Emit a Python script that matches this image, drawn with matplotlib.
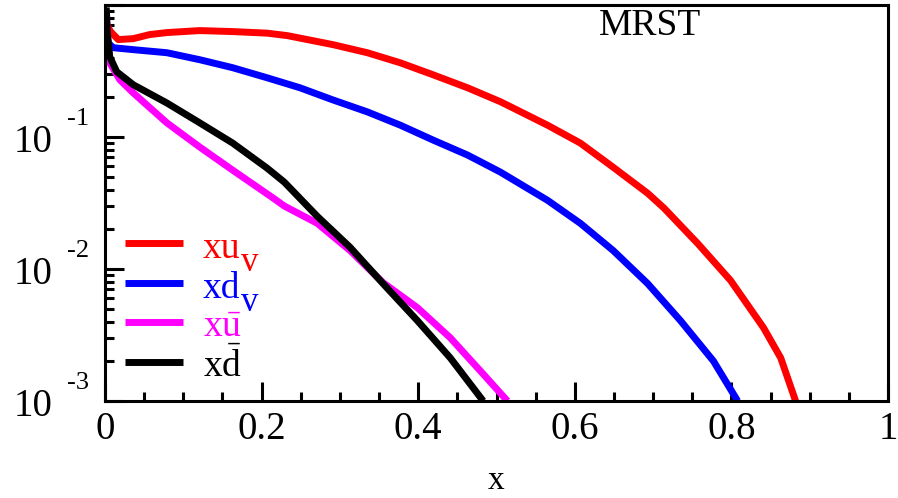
import matplotlib
matplotlib.use("Agg")
import matplotlib.pyplot as plt
from matplotlib.ticker import LogLocator, MultipleLocator, NullFormatter

plt.rcParams['font.family'] = ['Liberation Serif', 'DejaVu Serif']
plt.rcParams['mathtext.fontset'] = 'custom'
plt.rcParams['mathtext.rm'] = 'Liberation Serif'
plt.rcParams['mathtext.it'] = 'Liberation Serif:italic'

# values
x_uv = [0.003, 0.007, 0.017, 0.036, 0.057, 0.079, 0.121, 0.163, 0.207, 0.233,
        0.291, 0.335, 0.377, 0.419, 0.463, 0.505, 0.521, 0.565, 0.607, 0.649,
        0.693, 0.714, 0.757, 0.799, 0.841, 0.863, 0.882]
uv = [0.698, 0.629, 0.547, 0.556, 0.597, 0.618, 0.640, 0.629, 0.612, 0.586,
      0.501, 0.435, 0.365, 0.296, 0.236, 0.185, 0.166, 0.123, 0.090, 0.059,
      0.0375, 0.0289, 0.0156, 0.00818, 0.00359, 0.00212, 0.00100]

x_dv = [0.001, 0.004, 0.010, 0.036, 0.079, 0.121, 0.163, 0.207, 0.249, 0.291,
        0.335, 0.377, 0.419, 0.463, 0.505, 0.565, 0.607, 0.649, 0.693, 0.735,
        0.777, 0.808]
dv = [0.65, 0.519, 0.475, 0.459, 0.435, 0.385, 0.335, 0.281, 0.236, 0.191,
      0.155, 0.123, 0.0948, 0.0730, 0.0542, 0.0332, 0.0222, 0.0138, 0.00776,
      0.00406, 0.00201, 0.00100]

x_ubar = [0.0015, 0.003, 0.006, 0.019, 0.036, 0.079, 0.121, 0.163, 0.215,
          0.229, 0.271, 0.313, 0.355, 0.399, 0.441, 0.483, 0.514]
ubar = [0.924, 0.597, 0.365, 0.271, 0.216, 0.128, 0.0839, 0.0561, 0.0344,
        0.0300, 0.0222, 0.0138, 0.00789, 0.00509, 0.00301, 0.00160, 0.00100]

x_dbar = [0.0015, 0.002, 0.003, 0.006, 0.015, 0.036, 0.079, 0.121, 0.163,
          0.207, 0.229, 0.271, 0.313, 0.355, 0.399, 0.441, 0.483]
dbar = [0.957, 0.847, 0.618, 0.406, 0.312, 0.249, 0.181, 0.128, 0.0900,
        0.0581, 0.0455, 0.0251, 0.0146, 0.00776, 0.00406, 0.00212, 0.00100]

names = [r'xu', r'xd', r'x$\bar{\mathrm{u}}$', r'x$\bar{\mathrm{d}}$']
subs = ['v', 'v', '', '']
colors = ['#ff0000', '#0000ff', '#ff00ff', '#000000']
y_ticks = [1e-3, 1e-2, 1e-1]
y_exps = ['-3', '-2', '-1']
x_ticks = [0, 0.2, 0.4, 0.6, 0.8, 1]
x_ticklabels = ['0', '0.2', '0.4', '0.6', '0.8', '1']

# legend layout (axes fraction)
key_x = (0.0255, 0.0996)
text_x = 0.125
key_y = [0.399, 0.298, 0.1995, 0.0985]

fig = plt.figure(figsize=(8.98, 4.98), dpi=100)
ax = fig.add_axes([105 / 898, 97 / 498, 783 / 898, 396 / 498])

series = [(x_uv, uv), (x_dv, dv), (x_ubar, ubar), (x_dbar, dbar)]
for (xs, ys), col in zip(series, colors):
    ax.plot(xs, ys, color=col, lw=5, solid_capstyle='butt',
            solid_joinstyle='round')

ax.set_yscale('log')
ax.set_xlim(0, 1)
ax.set_ylim(1e-3, 1)

for sp in ax.spines.values():
    sp.set_linewidth(2.2)

ax.set_xticks(x_ticks)
ax.set_xticklabels(x_ticklabels)
ax.xaxis.set_minor_locator(MultipleLocator(0.05))
ax.yaxis.set_major_locator(LogLocator(base=10))
ax.yaxis.set_minor_locator(LogLocator(base=10, subs=range(2, 10)))
ax.yaxis.set_major_formatter(NullFormatter())
ax.yaxis.set_minor_formatter(NullFormatter())
ax.tick_params(which='both', direction='in', top=False, right=False, width=2.2)
ax.tick_params(which='major', length=13.5)
ax.tick_params(which='minor', length=6.5)
ax.tick_params(axis='x', labelsize=28, pad=7)

# y tick labels drawn as 10 with a raised exponent
for val, ex in zip(y_ticks, y_exps):
    ax.annotate('10', xy=(0, val), xycoords=('axes fraction', 'data'),
                xytext=(-37.5, -10.8), textcoords='offset points',
                ha='right', va='baseline', fontsize=28)
    ax.annotate(ex, xy=(0, val), xycoords=('axes fraction', 'data'),
                xytext=(-27.4, 8.6), textcoords='offset points',
                ha='left', va='baseline', fontsize=19)

fig.text(496 / 898, 1 - 489 / 498, 'x', fontsize=24, ha='center', va='baseline')

ax.text(0.696, 0.947, 'MRST', transform=ax.transAxes, fontsize=27,
        ha='center', va='center')

# legend: colored keys with matching labels
for y, name, sub, col in zip(key_y, names, subs, colors):
    ax.plot(key_x, [y, y], transform=ax.transAxes, color=col, lw=5,
            solid_capstyle='butt')
    t = ax.annotate(name, xy=(text_x, y), xycoords='axes fraction',
                    xytext=(0, -10.5), textcoords='offset points',
                    ha='left', va='baseline', fontsize=27, color=col)
    if sub:
        ax.annotate(sub, xy=(1, 0), xycoords=t, xytext=(0.5, -4),
                    textcoords='offset points', ha='left', va='baseline',
                    fontsize=25, color=col)

fig.savefig('out.png', dpi=100)
